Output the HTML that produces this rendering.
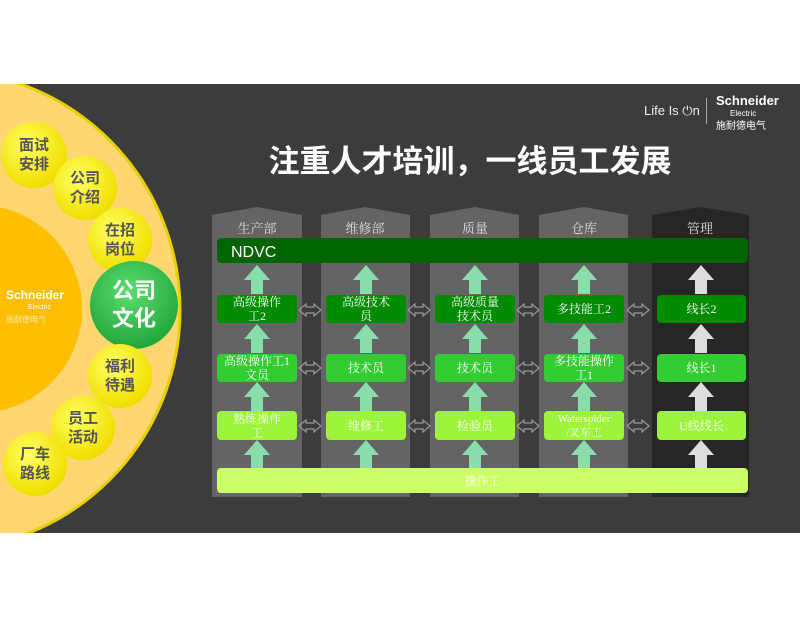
<!DOCTYPE html><html><head><meta charset="utf-8"><style>
body{margin:0;width:800px;height:618px;background:#fff;position:relative;overflow:hidden;font-family:"Liberation Sans","Noto Sans CJK SC",sans-serif}
.slide{position:absolute;left:0;top:84px;width:800px;height:449px;background:#3c3c3c;overflow:hidden}
.a{position:absolute}
.box{position:absolute;color:#fff;font-family:"Liberation Serif","Noto Serif CJK SC",serif;font-size:12px;text-align:center;border-radius:4px;display:flex;align-items:center;justify-content:center;line-height:14px}
.sc{position:absolute;border-radius:50%;background:radial-gradient(circle at 40% 35%,#ffff66,#f0e000 70%,#d8c800);color:#555;font-weight:bold;font-size:15px;display:flex;align-items:center;justify-content:center;text-align:center;line-height:19px}
</style></head><body>
<div class="slide">
<svg class="a" style="left:0;top:0" width="800" height="449">
<circle cx="-60" cy="226" r="240" fill="#ffd670" stroke="#e6d000" stroke-width="3"/>
<circle cx="-22" cy="225" r="104" fill="#ffbf00"/>
<g fill="#646464">
<polygon points="212,131 257,123 302,131 302,413 212,413"/>
<polygon points="321,131 365,123 410,131 410,413 321,413"/>
<polygon points="430,131 475,123 519,131 519,413 430,413"/>
<polygon points="539,131 584,123 628,131 628,413 539,413"/>
</g>
<polygon points="652,131 700,123 749,131 749,413 652,413" fill="#262626"/>
<g font-family="Liberation Serif,Noto Serif CJK SC,serif" font-size="13" fill="#ddd" text-anchor="middle">
<text x="257" y="149">生产部</text><text x="365" y="149">维修部</text><text x="475" y="149">质量</text><text x="584" y="149">仓库</text><text x="700" y="149">管理</text></g>
<rect x="217" y="154" width="531" height="25" rx="4" fill="#006400"/>
<text x="231" y="173" font-size="16" fill="#fff" font-family="Liberation Sans,sans-serif">NDVC</text>
<defs><g id="up"><polygon points="0,0 -13,15 -6,15 -6,29 6,29 6,15 13,15"/></g>
<g id="dbl"><polygon points="0,0 7,-6 7,-3 15,-3 15,-6 22,0 15,6 15,3 7,3 7,6" fill="none" stroke="#999" stroke-width="1.2"/></g></defs>
<g fill="#88dda8">
<use href="#up" x="257" y="181"/><use href="#up" x="257" y="240"/><use href="#up" x="257" y="298"/><use href="#up" x="257" y="356"/>
<use href="#up" x="366" y="181"/><use href="#up" x="366" y="240"/><use href="#up" x="366" y="298"/><use href="#up" x="366" y="356"/>
<use href="#up" x="475" y="181"/><use href="#up" x="475" y="240"/><use href="#up" x="475" y="298"/><use href="#up" x="475" y="356"/>
<use href="#up" x="584" y="181"/><use href="#up" x="584" y="240"/><use href="#up" x="584" y="298"/><use href="#up" x="584" y="356"/>
</g>
<g fill="#dddddd">
<use href="#up" x="701" y="181"/><use href="#up" x="701" y="240"/><use href="#up" x="701" y="298"/><use href="#up" x="701" y="356"/>
</g>
<g><use href="#dbl" x="299" y="226"/><use href="#dbl" x="408" y="226"/><use href="#dbl" x="517" y="226"/><use href="#dbl" x="627" y="226"/>
<use href="#dbl" x="299" y="284"/><use href="#dbl" x="408" y="284"/><use href="#dbl" x="517" y="284"/><use href="#dbl" x="627" y="284"/>
<use href="#dbl" x="299" y="342"/><use href="#dbl" x="408" y="342"/><use href="#dbl" x="517" y="342"/><use href="#dbl" x="627" y="342"/></g>
</svg>
<div class="box" style="left:217px;top:211px;width:80px;height:28px;background:#008c00">高级操作<br>工2</div>
<div class="box" style="left:326px;top:211px;width:80px;height:28px;background:#008c00">高级技术<br>员</div>
<div class="box" style="left:435px;top:211px;width:80px;height:28px;background:#008c00">高级质量<br>技术员</div>
<div class="box" style="left:544px;top:211px;width:80px;height:28px;background:#008c00">多技能工2</div>
<div class="box" style="left:657px;top:211px;width:89px;height:28px;background:#008c00">线长2</div>
<div class="box" style="left:217px;top:270px;width:80px;height:28px;background:#33cc33">高级操作工1<br>文员</div>
<div class="box" style="left:326px;top:270px;width:80px;height:28px;background:#33cc33">技术员</div>
<div class="box" style="left:435px;top:270px;width:80px;height:28px;background:#33cc33">技术员</div>
<div class="box" style="left:544px;top:270px;width:80px;height:28px;background:#33cc33">多技能操作<br>工1</div>
<div class="box" style="left:657px;top:270px;width:89px;height:28px;background:#33cc33">线长1</div>
<div class="box" style="left:217px;top:327px;width:80px;height:29px;background:#9cf53a">熟练操作<br>工</div>
<div class="box" style="left:326px;top:327px;width:80px;height:29px;background:#9cf53a">维修工</div>
<div class="box" style="left:435px;top:327px;width:80px;height:29px;background:#9cf53a">检验员</div>
<div class="box" style="left:544px;top:327px;width:80px;height:29px;background:#9cf53a;font-size:11px">Waterspider<br>/叉车工</div>
<div class="box" style="left:657px;top:327px;width:89px;height:29px;background:#9cf53a">U线线长</div>
<div class="box" style="left:217px;top:384px;width:531px;height:25px;background:#ccff66">操作工</div>
<div class="a" style="left:0;top:52px;width:800px;text-align:center;padding-left:140px;box-sizing:border-box;color:#fff;font-size:31px;font-weight:bold;font-family:'Noto Sans CJK SC',sans-serif">注重人才培训，一线员工发展</div>
<div class="a" style="left:644px;top:19px;color:#eee;font-size:13px">Life Is ⏻n</div>
<div class="a" style="left:706px;top:14px;width:1px;height:26px;background:#aaa"></div>
<div class="a" style="left:716px;top:11px;color:#fff;font-size:13px;font-weight:bold;line-height:11px">Schneider<br><span style="font-size:8px;font-weight:normal;padding-left:14px">Electric</span><br><span style="font-size:10px;font-weight:normal">施耐德电气</span></div>
<div class="a" style="left:6px;top:206px;color:#fff;font-size:12px;font-weight:bold;line-height:10px">Schneider<br><span style="font-size:7px;font-weight:normal;padding-left:22px">Electric</span><br><span style="font-size:8px;font-weight:normal;color:#ffe9b0">施耐德电气</span></div>
<div class="sc" style="left:1px;top:38px;width:66px;height:66px">面试<br>安排</div>
<div class="sc" style="left:53px;top:72px;width:64px;height:64px">公司<br>介绍</div>
<div class="sc" style="left:88px;top:124px;width:64px;height:64px">在招<br>岗位</div>
<div class="a" style="left:90px;top:177px;width:88px;height:88px;border-radius:50%;background:radial-gradient(circle at 45% 35%,#5ddc70,#22a83a 75%,#1a8a2e);color:#fff;font-weight:bold;font-size:22px;display:flex;align-items:center;justify-content:center;text-align:center;line-height:28px">公司<br>文化</div>
<div class="sc" style="left:88px;top:260px;width:64px;height:64px">福利<br>待遇</div>
<div class="sc" style="left:51px;top:312px;width:64px;height:64px">员工<br>活动</div>
<div class="sc" style="left:3px;top:348px;width:64px;height:64px">厂车<br>路线</div>
</div>
</body></html>
